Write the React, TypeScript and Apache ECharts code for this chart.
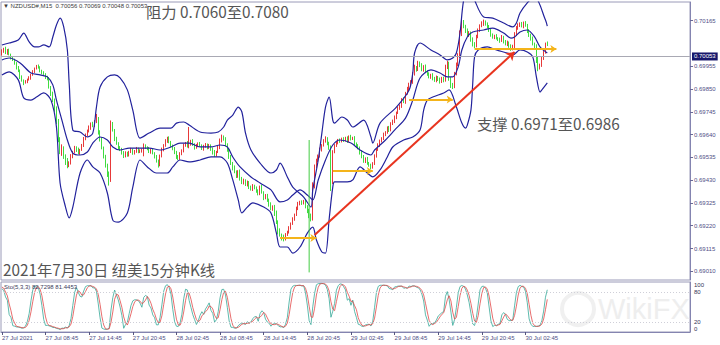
import React, { useEffect, useRef } from "react";
import * as echarts from "echarts";

// ---------- DATA (prices in 0.00001 above 0.69000) ----------
const BASE = 69000;
const priorCloses = [940, 925, 915, 930, 950, 945, 960, 975, 965, 940, 935, 955, 970, 990, 1000, 985, 1005, 1020, 1010];
const closes = [
  1025, 1035, 1015, 1030, 1010, 995, 985, 970, 950, 935,
  905, 890, 880, 885, 895, 900, 915, 930, 945, 955,
  950, 935, 925, 920, 905, 900, 860, 830, 800, 760,
  700, 620, 560, 580, 540, 520, 500, 510, 540, 560,
  580, 570, 555, 570, 590, 620, 640, 655, 670, 690,
  680, 700, 715, 650, 620, 580, 540, 500, 460, 430,
  690, 660, 620, 600, 580, 570, 560, 540, 555, 545,
  560, 570, 555, 565, 575, 560, 565, 570, 590, 580,
  575, 560, 570, 555, 540, 520, 500, 540, 570, 590,
  610, 625, 605, 590, 575, 560, 540, 530, 550, 565,
  590, 600, 585, 595, 610, 595, 580, 590, 600, 590,
  575, 585, 595, 580, 590, 575, 560, 545, 560, 580,
  610, 630, 620, 595, 570, 540, 510, 490, 470, 450,
  470, 440, 420, 430, 410, 420, 400, 390, 405, 395,
  380, 370, 400, 375, 350, 360, 340, 320, 300, 310,
  280, 240, 200, 180, 170, 160, 180, 190, 210, 230,
  250, 270, 300, 320, 330, 325, 335, 310, 290, 270,
  250, 400, 490, 520, 540, 570, 590, 610, 620, 600,
  580, 420, 560, 590, 600, 615, 610, 620, 615, 625,
  610, 630, 620, 625, 600, 590, 580, 560, 540, 520,
  530, 510, 500, 490, 505, 540, 570, 590, 610, 620,
  640, 650, 670, 660, 690, 700, 720, 740, 760, 770,
  800, 790, 830, 850, 870, 880, 920, 950, 940, 970,
  960, 940, 955, 930, 920, 905, 915, 900, 890, 905,
  895, 885, 900, 890, 950, 970, 900, 870, 860, 920,
  960, 1000, 1100, 1160, 1140, 1120, 1100, 1110, 1080, 1060,
  1050, 1090, 1120, 1140, 1150, 1160, 1150, 1140, 1120, 1100,
  1090, 1095, 1085, 1080, 1075, 1090, 1070, 1060, 1065, 1050,
  1040, 1045, 1100, 1130, 1145, 1150, 1140, 1155, 1145, 1120,
  1100, 1085, 1060, 1050, 990, 950, 960, 990, 1020, 1056,
  1053,
];
const hiWick = [
  8, 5, 10, 4, 6, 3, 7, 5, 4, 6, 5, 8, 4, 6, 3, 9, 5, 7, 4, 6,
  8, 5, 4, 7, 3, 6, 5, 4, 8, 6, 10, 12, 8, 15, 6, 9, 12, 7, 10, 5,
  8, 6, 10, 4, 7, 9, 5, 8, 12, 6, 9, 7, 20, 6, 10, 8, 5, 7, 6, 10,
  15, 8, 6, 10, 5, 7, 9, 4, 8, 6, 5, 9, 6, 4, 8, 5, 7, 6, 9, 5,
  6, 8, 5, 7, 4, 6, 5, 8, 10, 6, 9, 5, 7, 6, 4, 8, 5, 6, 9, 7,
  8, 6, 10, 80, 6, 9, 5, 7, 4, 6, 5, 8, 6, 4, 7, 5, 6, 9, 5, 8,
  12, 10, 6, 8, 5, 7, 6, 4, 8, 5, 6, 9, 5, 7, 4, 8, 6, 5, 7, 4,
  6, 8, 5, 9, 4, 6, 7, 5, 8, 4, 6, 10, 5, 8, 4, 9, 6, 7, 8, 5,
  9, 6, 8, 10, 5, 7, 4, 6, 5, 8, 6, 20, 12, 9, 8, 10, 6, 9, 12, 8,
  7, 10, 8, 6, 9, 5, 7, 6, 8, 5, 7, 6, 9, 5, 8, 4, 6, 5, 7, 6,
  5, 7, 4, 6, 8, 9, 6, 10, 7, 8, 9, 6, 8, 10, 7, 9, 8, 6, 10, 9,
  8, 12, 7, 10, 9, 11, 8, 12, 6, 10, 7, 9, 5, 8, 6, 7, 5, 8, 6, 7,
  5, 8, 6, 7, 12, 10, 6, 5, 8, 9, 12, 15, 20, 18, 8, 6, 9, 7, 5, 8,
  6, 10, 9, 8, 12, 10, 6, 7, 5, 8, 6, 5, 8, 4, 7, 9, 5, 6, 8, 4,
  6, 9, 12, 10, 8, 7, 9, 6, 8, 5, 6, 5, 7, 4, 6, 8, 7, 9, 10, 8,
  13,
];
const loWick = [
  6, 8, 4, 7, 5, 9, 6, 8, 10, 7, 9, 6, 12, 5, 8, 6, 7, 4, 6, 5,
  6, 8, 7, 5, 9, 10, 8, 12, 10, 15, 12, 15, 10, 18, 12, 20, 15, 10, 8, 9,
  7, 10, 6, 8, 5, 7, 6, 9, 5, 8, 6, 5, 7, 10, 12, 8, 10, 12, 15, 25,
  8, 6, 10, 7, 9, 6, 12, 8, 5, 7, 6, 5, 8, 7, 9, 6, 5, 8, 30, 6,
  7, 5, 8, 6, 10, 9, 12, 6, 5, 7, 6, 8, 5, 9, 7, 10, 12, 8, 6, 5,
  7, 6, 5, 8, 6, 7, 9, 5, 8, 6, 6, 9, 5, 8, 6, 10, 12, 8, 6, 5,
  7, 6, 8, 10, 9, 12, 10, 15, 8, 10, 9, 12, 8, 10, 7, 9, 11, 8, 10, 7,
  8, 10, 9, 7, 12, 8, 10, 12, 9, 11, 15, 12, 20, 10, 18, 12, 8, 7, 6, 8,
  6, 7, 5, 8, 6, 9, 7, 10, 12, 15, 10, 6, 8, 5, 7, 6, 8, 5, 7, 9,
  10, 40, 8, 6, 7, 5, 8, 6, 9, 7, 8, 6, 7, 5, 9, 10, 8, 12, 9, 10,
  11, 9, 8, 10, 7, 5, 6, 5, 7, 6, 5, 7, 6, 8, 5, 6, 7, 9, 5, 6,
  7, 5, 8, 6, 9, 7, 6, 8, 10, 7, 9, 8, 10, 7, 9, 6, 8, 10, 7, 9,
  8, 10, 7, 9, 6, 8, 12, 15, 10, 6, 7, 5, 8, 6, 10, 12, 9, 10, 12, 14,
  12, 8, 6, 7, 5, 9, 8, 10, 7, 9, 8, 10, 7, 9, 12, 8, 10, 9, 12, 10,
  14, 12, 8, 6, 7, 9, 6, 10, 8, 12, 10, 12, 9, 14, 20, 18, 10, 8, 6, 7,
  5,
];

// Bollinger band traces: [bar index, price in 0.00001 above 0.69]
const bbUpper = [
  [0, 1053], [4, 1062], [9, 1076], [12, 1108], [15, 1067], [18, 1044], [20, 1044], [23, 1053], [26, 1044], [28, 1090],
  [30, 1145], [32, 1177], [34, 1136], [36, 1030], [37, 878], [39, 661], [43, 652], [47, 629], [50, 647], [52, 767],
  [54, 859], [58, 906], [62, 915], [65, 901], [69, 846], [72, 753], [76, 624], [81, 647], [87, 670], [93, 670],
  [96, 693], [100, 698], [103, 684], [109, 652], [115, 647], [119, 652], [122, 675], [124, 707], [127, 730], [130, 767],
  [132, 744], [134, 647], [137, 569], [142, 509], [148, 463], [151, 477], [153, 509], [157, 445], [160, 398], [166, 352],
  [170, 306], [171, 385], [174, 523], [176, 647], [178, 767], [180, 813], [182, 707], [183, 693], [187, 721], [190, 707],
  [193, 675], [199, 707], [203, 629], [204, 601], [208, 693], [217, 767], [224, 846], [226, 924], [227, 1016], [230, 1062],
  [236, 1030], [241, 1007], [245, 984], [248, 993], [250, 1016], [252, 1108], [254, 1260], [257, 1330], [260, 1260], [265, 1182],
  [270, 1177], [276, 1154], [281, 1136], [283, 1154], [285, 1200], [289, 1247], [293, 1275], [299, 1168], [300, 1140],
];
const bbMiddle = [
  [0, 984], [4, 993], [10, 970], [16, 924], [21, 915], [25, 906], [28, 869], [30, 799], [33, 707], [36, 615],
  [39, 555], [43, 546], [47, 560], [50, 601], [54, 629], [58, 615], [61, 583], [65, 569], [70, 578], [76, 578],
  [81, 578], [87, 569], [93, 583], [98, 601], [103, 601], [109, 583], [115, 583], [120, 592], [124, 583], [127, 537],
  [131, 491], [137, 445], [142, 417], [148, 385], [153, 330], [157, 339], [160, 362], [164, 385], [168, 362], [171, 339],
  [174, 431], [178, 523], [182, 592], [186, 615], [192, 601], [197, 569], [203, 546], [205, 569], [211, 615], [216, 661],
  [222, 716], [226, 799], [230, 901], [236, 938], [241, 924], [245, 906], [248, 906], [251, 952], [253, 1030], [256, 1090],
  [259, 1113], [265, 1122], [270, 1131], [276, 1108], [280, 1085], [282, 1090], [285, 1113], [289, 1122], [293, 1090], [296, 1044],
  [300, 1016],
];
const bbLower = [
  [0, 915], [4, 929], [9, 892], [12, 809], [16, 799], [19, 813], [23, 832], [27, 799], [30, 675], [32, 417],
  [35, 306], [37, 256], [39, 306], [43, 463], [47, 523], [50, 491], [54, 463], [58, 371], [61, 246], [64, 237],
  [69, 279], [72, 398], [76, 523], [80, 491], [85, 463], [91, 463], [94, 491], [98, 523], [103, 514], [109, 523],
  [115, 537], [120, 537], [124, 509], [127, 431], [130, 339], [132, 279], [135, 306], [138, 325], [144, 306], [148, 279],
  [151, 186], [153, 122], [157, 122], [160, 94], [164, 122], [168, 186], [171, 214], [173, 154], [176, 99], [178, 94],
  [180, 250], [182, 398], [183, 422], [190, 422], [193, 431], [197, 491], [201, 463], [204, 445], [208, 477], [212, 537],
  [215, 583], [221, 615], [226, 629], [230, 661], [232, 753], [234, 799], [237, 813], [243, 832], [246, 846], [250, 767],
  [253, 693], [255, 670], [256, 684], [258, 753], [259, 878], [260, 998], [262, 1030], [267, 1044], [272, 1030], [278, 1016],
  [281, 1007], [285, 1030], [289, 1021], [292, 998], [294, 906], [296, 836], [297, 846], [300, 878],
];

const timeLabels = [
  "27 Jul 2021", "27 Jul 08:45", "27 Jul 14:45", "27 Jul 20:45", "28 Jul 02:45", "28 Jul 08:45", "28 Jul 14:45",
  "28 Jul 20:45", "29 Jul 02:45", "29 Jul 08:45", "29 Jul 14:45", "29 Jul 20:45", "30 Jul 02:45",
];
const priceTicks = [0.6901, 0.69115, 0.6922, 0.69325, 0.6943, 0.69535, 0.6964, 0.69745, 0.6985, 0.69955, 0.70165];
const stochTicks = [0, 20, 80, 100];
const lastPrice = 0.70053;

// support (yellow) arrows: [fromBar, toBar, price]
const supportArrows = [
  [153, 173, 0.69164],
  [182, 204, 0.69472],
  [224, 248, 0.69802],
  [260, 305, 0.70035],
];
// trend (red) arrow: [bar, price] start and end
const trendArrow = [[172, 0.69177], [282, 0.70021]];
// vertical green line: bar, top price, bottom price
const vLine = [169, 0.69615, 0.69005];

const headerText = "▼ NZDUSD#,M15  0.70056 0.70069 0.70048 0.70053";
const stochText = "Sto(5,3,3) 82.7298 81.4453";
const resistText = "阻力 0.7060至0.7080";
const supportText = "支撑 0.6971至0.6986";
const titleText = "2021年7月30日 纽美15分钟K线";
const watermarkText = "WikiFX";

// ---------- derived ----------
const TOTAL_SLOTS = 379;
const toP = (v: number) => (BASE + v) / 100000;

function buildOHLC() {
  const all = [...priorCloses, ...closes];
  const nPrior = priorCloses.length;
  const O: number[] = [], H: number[] = [], L: number[] = [], C: number[] = [];
  for (let i = 0; i < all.length; i++) {
    const c = all[i];
    const o = i === 0 ? c : all[i - 1];
    const vi = i - nPrior;
    const hw = vi >= 0 ? hiWick[vi] : 0;
    const lw = vi >= 0 ? loWick[vi] : 0;
    O.push(o); C.push(c);
    H.push(Math.max(o, c) + hw);
    L.push(Math.min(o, c) - lw);
  }
  return { O, H, L, C, nPrior };
}
const { O, H, L, C, nPrior } = buildOHLC();

function stochastic() {
  const n = C.length;
  const ll: number[] = [], hh: number[] = [];
  for (let i = 0; i < n; i++) {
    let lo = Infinity, hi = -Infinity;
    for (let j = Math.max(0, i - 4); j <= i; j++) { lo = Math.min(lo, L[j]); hi = Math.max(hi, H[j]); }
    ll.push(lo); hh.push(hi);
  }
  const k: number[] = [];
  for (let i = 0; i < n; i++) {
    let num = 0, den = 0;
    for (let j = Math.max(0, i - 2); j <= i; j++) { num += C[j] - ll[j]; den += hh[j] - ll[j]; }
    k.push(den > 0 ? (100 * num) / den : 50);
  }
  const d: number[] = [];
  for (let i = 0; i < n; i++) {
    let s = 0, c = 0;
    for (let j = Math.max(0, i - 2); j <= i; j++) { s += k[j]; c++; }
    d.push(s / c);
  }
  return { k: k.slice(nPrior), d: d.slice(nPrior) };
}

export default function App() {
  const ref = useRef<HTMLDivElement>(null);
  useEffect(() => {
    if (!ref.current) return;
    const chart = echarts.init(ref.current, null, { renderer: "svg" });
    const cats = Array.from({ length: TOTAL_SLOTS }, (_, i) => String(i));
    const candles = closes.map((_, i) => {
      const j = i + nPrior;
      return [toP(O[j]), toP(C[j]), toP(L[j]), toP(H[j])];
    });
    const st = stochastic();
    const bandSeries = (pts: number[][]) => ({
      type: "line",
      xAxisIndex: 0,
      yAxisIndex: 0,
      data: pts.map((p) => [p[0], toP(p[1])]),
      showSymbol: false,
      symbol: "none",
      smooth: 0.3,
      lineStyle: { color: "#22229c", width: 1.2 },
      silent: true,
      z: 3,
    });
    const axisColor = "#8484b0";
    const labelColor = "#4f4f86";
    const tickFont = "Liberation Sans, Arial, sans-serif";
    const option: any = {
      animation: false,
      backgroundColor: "#ffffff",
      grid: [
        { left: 1, top: 2, width: 689, height: 278, show: true, borderColor: "#9a9ab8", borderWidth: 1, containLabel: false, outerBoundsMode: "none" },
        { left: 1, top: 282, width: 689, height: 50, show: true, borderColor: "#9a9ab8", borderWidth: 1, containLabel: false, outerBoundsMode: "none" },
      ],
      xAxis: [
        { type: "category", gridIndex: 0, data: cats, show: false, boundaryGap: true },
        {
          type: "category", gridIndex: 1, data: cats, boundaryGap: true,
          axisLine: { show: true, lineStyle: { color: axisColor, width: 1 } },
          axisTick: { show: true, alignWithLabel: true, length: 3, interval: (i: number) => i % 24 === 0 && i <= 300, lineStyle: { color: "#55557f" } },
          axisLabel: {
            show: true, interval: (i: number) => i % 24 === 0 && i <= 300,
            formatter: (_v: string, i: number) => timeLabels[i / 24] || "",
            align: "left", fontSize: 6, color: labelColor, margin: 3, fontFamily: tickFont,
          },
          splitLine: { show: false },
        },
      ],
      yAxis: [
        {
          type: "value", gridIndex: 0, position: "right", min: 0.6897, max: 0.70251, scale: true,
          axisLine: { show: true, lineStyle: { color: axisColor, width: 1 } },
          axisTick: { show: true, length: 3, customValues: priceTicks, lineStyle: { color: "#6a6a98" } },
          axisLabel: { show: true, customValues: priceTicks, formatter: (v: number) => v.toFixed(5), fontSize: 6, color: labelColor, margin: 4, fontFamily: tickFont },
          splitLine: { show: false },
        },
        {
          type: "value", gridIndex: 1, position: "right", min: 0, max: 100,
          axisLine: { show: true, lineStyle: { color: axisColor, width: 1 } },
          axisTick: { show: false },
          axisLabel: {
            show: true, customValues: stochTicks, formatter: (v: number) => String(v), fontSize: 6, color: "#333355", margin: 4,
            verticalAlignMaxLabel: "top", verticalAlignMinLabel: "bottom", fontFamily: tickFont,
          },
          splitLine: { show: false },
        },
      ],
      series: [
        {
          type: "candlestick", xAxisIndex: 0, yAxisIndex: 0, data: candles, barWidth: 1,
          itemStyle: { color: "#e42222", color0: "#2ad82a", borderColor: "#e42222", borderColor0: "#2ad82a", borderWidth: 0.9 },
          z: 2,
          markLine: {
            silent: true, symbol: "none", animation: false,
            lineStyle: { color: "#a9a9b4", width: 1, type: "solid" },
            label: {
              show: true, position: "end", distance: 2, formatter: lastPrice.toFixed(5),
              backgroundColor: "#17176b", color: "#ffffff", fontSize: 6, padding: [1, 2], fontFamily: tickFont,
            },
            data: [{ yAxis: lastPrice }],
          },
        },
        bandSeries(bbUpper),
        bandSeries(bbMiddle),
        bandSeries(bbLower),
        {
          type: "line", xAxisIndex: 0, yAxisIndex: 0, symbol: "none",
          data: [[vLine[0], vLine[1]], [vLine[0], vLine[2]]],
          lineStyle: { color: "#44cc44", width: 1 }, z: 4, silent: true,
        },
        {
          type: "lines", coordinateSystem: "cartesian2d", xAxisIndex: 0, yAxisIndex: 0,
          symbol: ["none", "arrow"], symbolSize: 6, silent: true, z: 6,
          lineStyle: { color: "#f4b41a", width: 2, opacity: 1 },
          data: supportArrows.map((a) => ({ coords: [[a[0], a[2]], [a[1], a[2]]] })),
        },
        {
          type: "lines", coordinateSystem: "cartesian2d", xAxisIndex: 0, yAxisIndex: 0,
          symbol: ["none", "arrow"], symbolSize: 8, silent: true, z: 7,
          lineStyle: { color: "#e8341f", width: 2, opacity: 1 },
          data: [{ coords: trendArrow }],
        },
        {
          type: "line", xAxisIndex: 1, yAxisIndex: 1, data: st.k, symbol: "none", silent: true,
          lineStyle: { color: "#35a898", width: 0.8 }, z: 3,
          markLine: {
            silent: true, symbol: "none", label: { show: false },
            lineStyle: { color: "#cfcfd8", width: 1, type: [1, 2] },
            data: [{ yAxis: 20 }, { yAxis: 80 }],
          },
        },
        {
          type: "line", xAxisIndex: 1, yAxisIndex: 1, data: st.d, symbol: "none", silent: true,
          lineStyle: { color: "#e24848", width: 0.8 }, z: 4,
        },
      ],
      graphic: [
        { type: "text", left: 3, top: 3, z: 10, style: { text: headerText, fontSize: 6, fill: "#3a3a3a", fontFamily: tickFont } },
        { type: "text", left: 4, top: 284, z: 10, style: { text: stochText, fontSize: 6, fill: "#3a3a5a", fontFamily: tickFont } },
        { type: "text", left: 146, top: 3, z: 10, style: { text: resistText, fontSize: 15.3, fill: "#555555", fontFamily: "Noto Sans CJK SC" } },
        { type: "text", left: 477, top: 115, z: 10, style: { text: supportText, fontSize: 15.3, fill: "#555555", fontFamily: "Noto Sans CJK SC" } },
        { type: "text", left: 3, top: 261, z: 10, style: { text: titleText, fontSize: 15.3, fill: "#555555", fontFamily: "Noto Sans CJK SC" } },
        { type: "circle", z: 1, shape: { cx: 578, cy: 309, r: 16 }, style: { fill: "none", stroke: "#f0f0f0", lineWidth: 4 } },
        { type: "text", left: 598, top: 294, z: 1, style: { text: watermarkText, fontSize: 29, fill: "#eeeeee", fontFamily: "Liberation Sans" } },
      ],
    };
    chart.setOption(option);
    return () => chart.dispose();
  }, []);
  return <div ref={ref} style={{ position: "absolute", left: 0, top: 0, width: 720, height: 345, background: "#fff" }} />;
}
